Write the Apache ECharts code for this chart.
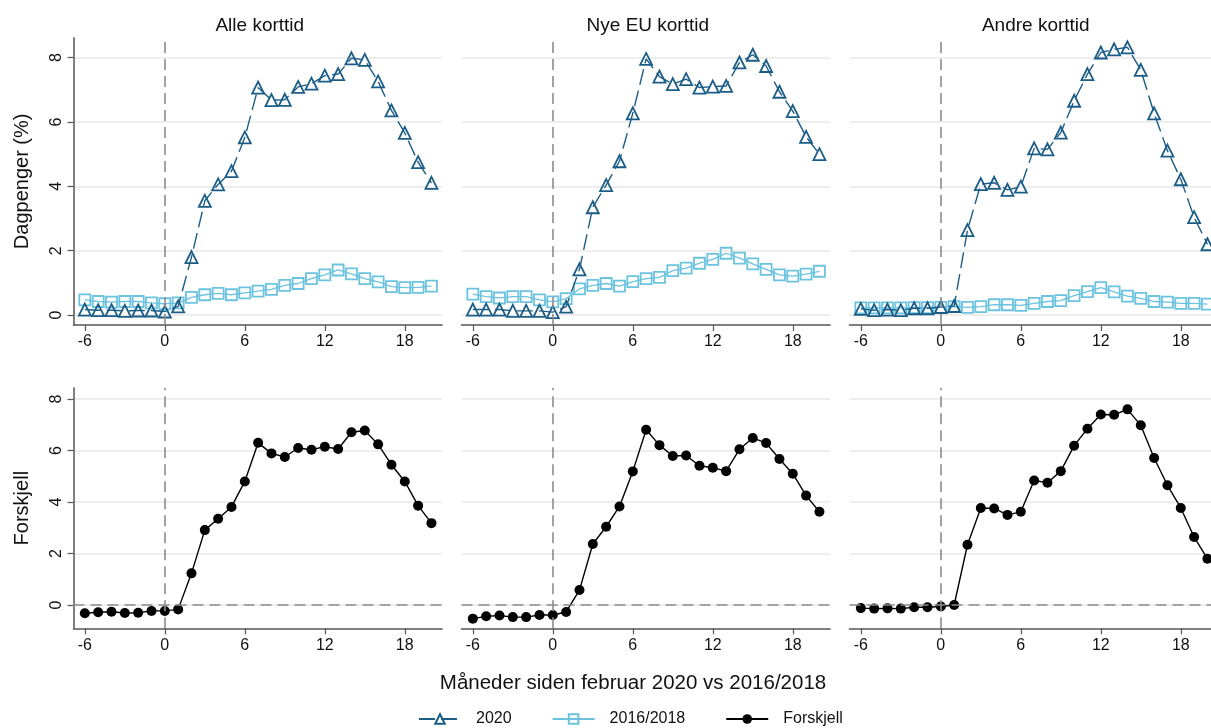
<!DOCTYPE html>
<html lang="no">
<head>
  <meta charset="UTF-8">
  <title>Dagpenger korttid</title>
  <script src="https://cdn.jsdelivr.net/npm/echarts@6.0.0/dist/echarts.min.js"></script>
  <style>
    html, body { margin: 0; padding: 0; background: #fff; overflow: hidden; }
    /* the right panel runs past the window edge, as in the original */
    #chart { width: 1232px; height: 728px; }
  </style>
</head>
<body>
  <div id="chart"></div>
  <script>
    // måneder siden februar
    const months = [-6, -5, -4, -3, -2, -1, 0, 1, 2, 3, 4, 5, 6, 7, 8, 9, 10, 11, 12, 13, 14, 15, 16, 17, 18, 19, 20];
    const xTicks = [-6, 0, 6, 12, 18];
    const yTicks = [0, 2, 4, 6, 8];
    const panelTitles = ['Alle korttid', 'Nye EU korttid', 'Andre korttid'];

    // Alle korttid
    const alle2020 = [0.17, 0.15, 0.15, 0.13, 0.14, 0.14, 0.11, 0.27, 1.8, 3.55, 4.06, 4.47, 5.52, 7.07, 6.68, 6.69, 7.09, 7.19, 7.44, 7.49, 7.98, 7.93, 7.26, 6.36, 5.66, 4.75, 4.11];
    const alle1618 = [0.47, 0.42, 0.4, 0.42, 0.42, 0.38, 0.35, 0.38, 0.55, 0.63, 0.67, 0.63, 0.69, 0.74, 0.8, 0.92, 0.98, 1.13, 1.25, 1.4, 1.28, 1.13, 1.03, 0.88, 0.85, 0.86, 0.9];
    const alleDiff = [-0.32, -0.28, -0.26, -0.31, -0.3, -0.23, -0.23, -0.17, 1.23, 2.91, 3.35, 3.81, 4.8, 6.3, 5.89, 5.75, 6.1, 6.03, 6.15, 6.06, 6.71, 6.78, 6.24, 5.45, 4.8, 3.86, 3.18];

    // Nye EU korttid
    const nye2020 = [0.17, 0.17, 0.17, 0.13, 0.13, 0.13, 0.09, 0.26, 1.42, 3.35, 4.04, 4.78, 6.27, 7.96, 7.41, 7.18, 7.33, 7.07, 7.1, 7.12, 7.85, 8.09, 7.74, 6.94, 6.34, 5.54, 5.0];
    const nye1618 = [0.65, 0.57, 0.53, 0.57, 0.57, 0.47, 0.41, 0.51, 0.81, 0.92, 0.98, 0.9, 1.04, 1.13, 1.17, 1.38, 1.46, 1.61, 1.73, 1.92, 1.77, 1.59, 1.42, 1.25, 1.21, 1.27, 1.36];
    const nyeDiff = [-0.53, -0.44, -0.41, -0.47, -0.47, -0.39, -0.39, -0.27, 0.58, 2.37, 3.04, 3.83, 5.19, 6.81, 6.21, 5.79, 5.81, 5.41, 5.33, 5.2, 6.05, 6.49, 6.29, 5.67, 5.1, 4.25, 3.62];

    // Andre korttid
    const andre2020 = [0.19, 0.15, 0.17, 0.15, 0.21, 0.21, 0.25, 0.28, 2.64, 4.07, 4.11, 3.89, 3.99, 5.18, 5.15, 5.67, 6.66, 7.49, 8.16, 8.26, 8.32, 7.62, 6.27, 5.11, 4.22, 3.04, 2.2];
    const andre1618 = [0.22, 0.22, 0.22, 0.22, 0.23, 0.23, 0.24, 0.26, 0.24, 0.26, 0.32, 0.32, 0.3, 0.36, 0.42, 0.45, 0.6, 0.73, 0.85, 0.72, 0.59, 0.52, 0.42, 0.4, 0.36, 0.36, 0.34];
    const andreDiff = [-0.12, -0.14, -0.13, -0.14, -0.09, -0.09, -0.06, 0.0, 2.34, 3.77, 3.75, 3.5, 3.62, 4.84, 4.75, 5.2, 6.19, 6.85, 7.4, 7.39, 7.6, 6.98, 5.71, 4.65, 3.77, 2.64, 1.8];

    const top2020 = [alle2020, nye2020, andre2020];
    const top1618 = [alle1618, nye1618, andre1618];
    const diffs = [alleDiff, nyeDiff, andreDiff];

    const FONT = '"Liberation Sans", Arial, Helvetica, sans-serif';
    const C2020 = '#1b5d87';
    const C1618 = '#6cc3df';
    const AXIS = '#555555';
    const REF = '#8c8c8c';

    const colLeft = [73.5, 461.5, 849.5];
    const colWidth = 368.6;
    const rowTop = [37.7, 388];
    const rowHeight = [287.3, 240.3];
    const yRange = [[-0.31, 8.62], [-0.905, 8.43]];

    const pair = arr => arr.map((v, i) => [months[i], v]);

    const grids = [], xAxes = [], yAxes = [], series = [], titles = [];

    for (let r = 0; r < 2; r++) {
      for (let c = 0; c < 3; c++) {
        const idx = r * 3 + c;
        grids.push({ left: colLeft[c], top: rowTop[r], width: colWidth, height: rowHeight[r] });
        xAxes.push({
          type: 'value', gridIndex: idx, min: -6.85, max: 20.8,
          axisLine: { show: true, onZero: false, lineStyle: { color: AXIS, width: 1.5 } },
          axisTick: { show: true, length: 6, customValues: xTicks, lineStyle: { color: AXIS, width: 1.2 } },
          axisLabel: { customValues: xTicks, fontSize: 16, color: '#111', fontFamily: FONT, margin: 9 },
          splitLine: { show: false }
        });
        const first = c === 0;
        yAxes.push({
          type: 'value', gridIndex: idx, min: yRange[r][0], max: yRange[r][1],
          name: first ? (r === 0 ? 'Dagpenger (%)' : 'Forskjell') : '',
          nameLocation: 'middle', nameGap: 41, nameRotate: 90,
          nameTextStyle: { fontSize: 20, color: '#111', fontFamily: FONT },
          axisLine: { show: first, onZero: false, lineStyle: { color: AXIS, width: 1.5 } },
          axisTick: { show: first, length: 6, customValues: yTicks, lineStyle: { color: AXIS, width: 1.2 } },
          axisLabel: { show: first, customValues: yTicks, rotate: 90, fontSize: 16, color: '#111', fontFamily: FONT, margin: 9 },
          splitLine: { show: true, lineStyle: { color: '#e9e9e9', width: 1.5 } }
        });

        const refLines = [{ xAxis: 0 }];
        if (r === 1) refLines.push({ yAxis: 0 });
        const markLine = {
          silent: true, symbol: 'none', label: { show: false },
          lineStyle: { color: REF, type: [11, 6], width: 1.6 },
          data: refLines, animation: false
        };

        if (r === 0) {
          series.push({
            name: '2016/2018', type: 'line', xAxisIndex: idx, yAxisIndex: idx,
            data: pair(top1618[c]), symbol: 'rect', symbolSize: 11,
            lineStyle: { color: C1618, width: 1.3 },
            itemStyle: { color: 'rgba(255,255,255,0)', borderColor: C1618, borderWidth: 1.8 },
            markLine: markLine, z: 3
          });
          series.push({
            name: '2020', type: 'line', xAxisIndex: idx, yAxisIndex: idx,
            data: pair(top2020[c]), symbol: 'triangle', symbolSize: 12,
            lineStyle: { color: C2020, width: 1.4, type: [16, 6] },
            itemStyle: { color: 'rgba(255,255,255,0)', borderColor: C2020, borderWidth: 1.8 },
            z: 4
          });
        } else {
          series.push({
            name: 'Forskjell', type: 'line', xAxisIndex: idx, yAxisIndex: idx,
            data: pair(diffs[c]), symbol: 'circle', symbolSize: 10,
            lineStyle: { color: '#000', width: 1.4 },
            itemStyle: { color: '#000' },
            markLine: markLine, z: 3
          });
        }
      }
    }

    for (let c = 0; c < 3; c++) {
      titles.push({
        text: panelTitles[c], left: colLeft[c] + colWidth / 2 - 3, top: 11, textAlign: 'center',
        textStyle: { fontSize: 19, fontWeight: 'normal', color: '#111', fontFamily: FONT }
      });
    }
    titles.push({
      text: 'Måneder siden februar 2020 vs 2016/2018', left: 628, top: 668, textAlign: 'center',
      textStyle: { fontSize: 20.5, fontWeight: 'normal', color: '#111', fontFamily: FONT }
    });

    const chart = echarts.init(document.getElementById('chart'));
    chart.setOption({
      animation: false,
      backgroundColor: '#fff',
      title: titles,
      grid: grids,
      xAxis: xAxes,
      yAxis: yAxes,
      legend: {
        data: ['2020', '2016/2018', 'Forskjell'],
        left: 413, top: 706, itemWidth: 42, itemHeight: 12, itemGap: 40,
        textStyle: { fontSize: 16, color: '#111', fontFamily: FONT, padding: [0, 0, 0, 10] }
      },
      series: series
    });
  </script>
</body>
</html>
